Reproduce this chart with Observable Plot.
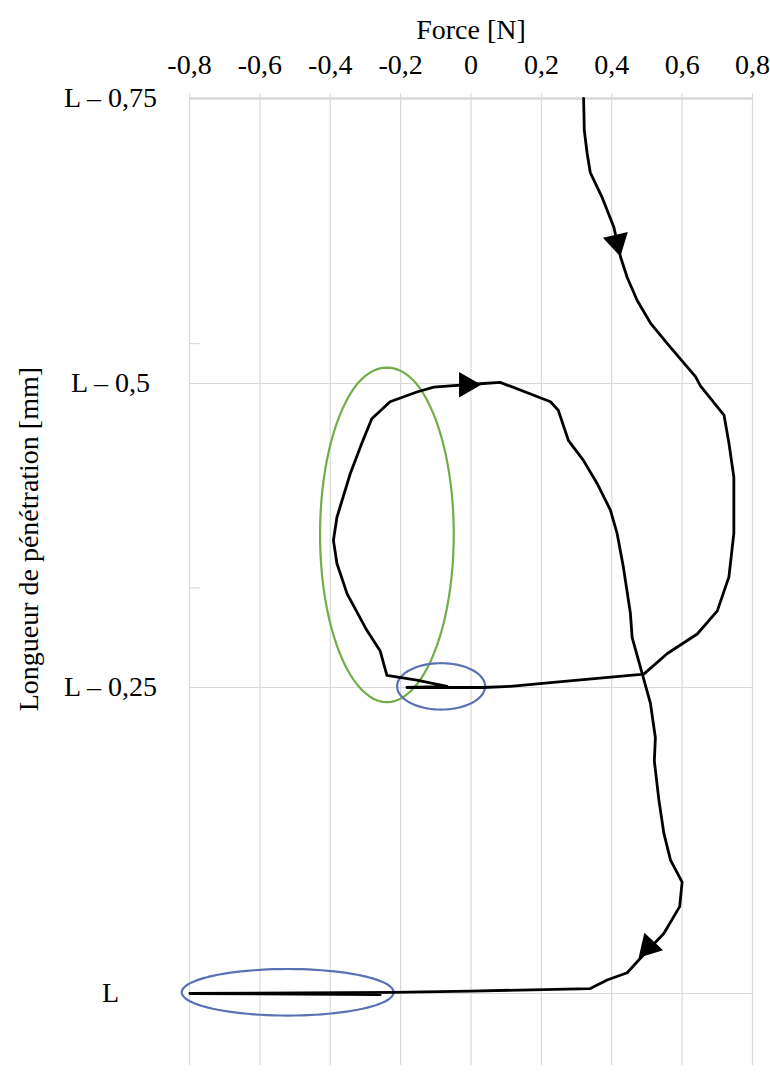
<!DOCTYPE html>
<html>
<head>
<meta charset="utf-8">
<script src="https://cdn.jsdelivr.net/npm/d3@7"></script>
<script src="https://cdn.jsdelivr.net/npm/@observablehq/plot@0.6"></script>
<style>
  body { margin: 0; background: #fff; }
  #chart svg { display: block; }
</style>
</head>
<body>
<div id="chart"></div>
<script>
// Force [N] along the trajectory
const force = [0.320, 0.322, 0.330, 0.339, 0.373, 0.406, 0.425, 0.444, 0.472, 0.510,
  0.558, 0.638, 0.652, 0.719, 0.733, 0.747, 0.747, 0.733, 0.700, 0.643,
  0.558, 0.491, 0.226, 0.112, 0.035, -0.068, -0.182, -0.068, -0.154, -0.239,
  -0.258, -0.296, -0.352, -0.381, -0.391, -0.381, -0.343, -0.310, -0.282, -0.230,
  -0.154, -0.106, -0.059, 0.035, 0.083, 0.226, 0.248, 0.277, 0.319, 0.358,
  0.396, 0.415, 0.433, 0.453, 0.458, 0.486, 0.510, 0.524, 0.521, 0.534,
  0.548, 0.567, 0.600, 0.593, 0.548, 0.482, 0.444, 0.387, 0.339, -0.002,
  -0.221, -0.799, -0.258];
// Penetration relative to L [mm]
const depth = [-0.750, -0.722, -0.702, -0.685, -0.663, -0.637, -0.611, -0.593, -0.573, -0.553,
  -0.535, -0.506, -0.498, -0.474, -0.451, -0.423, -0.377, -0.341, -0.313, -0.294,
  -0.278, -0.261, -0.254, -0.251, -0.250, -0.250, -0.250, -0.251, -0.256, -0.260,
  -0.280, -0.297, -0.327, -0.352, -0.371, -0.390, -0.426, -0.451, -0.471, -0.485,
  -0.493, -0.497, -0.498, -0.500, -0.501, -0.485, -0.478, -0.453, -0.437, -0.418,
  -0.396, -0.377, -0.349, -0.311, -0.291, -0.262, -0.237, -0.209, -0.190, -0.158,
  -0.131, -0.109, -0.091, -0.071, -0.049, -0.029, -0.017, -0.011, -0.004, -0.002,
  -0.001, 0.000, 0.001];

// direction arrows
const arrowForce = [0.415, -0.013, 0.505];
const arrowDepth = [-0.624, -0.499, -0.038];
const arrowAngle = [167, 90, 223];

// highlighted zones (ellipses)
const zoneCx = [-0.239, -0.085, -0.521];
const zoneCy = [-0.376, -0.251, -0.001];
const zoneRx = [0.190, 0.125, 0.301];
const zoneRy = [0.138, 0.019, 0.019];
const zoneColor = ["#72ad4a", "#5a72b4", "#5a72b4"];

// axes
const xTicks = [-0.8, -0.6, -0.4, -0.2, 0, 0.2, 0.4, 0.6, 0.8];
const yTicks = [-0.75, -0.5, -0.25, 0];
const yTickLabels = ["L – 0,75", "L – 0,5", "L – 0,25", "L"];
const minorY = [-0.535, -0.332];

const xTitle = "Force [N]";
const yTitle = "Longueur de pénétration [mm]";

const path = force.map((f, i) => ({f, d: depth[i]}));
const arrows = arrowForce.map((f, i) => ({f, d: arrowDepth[i], a: arrowAngle[i]}));
const zones = zoneCx.flatMap((cx, k) => d3.range(0, 97).map(j => {
  const t = j / 96 * 2 * Math.PI;
  return {k, f: cx + zoneRx[k] * Math.cos(t), d: zoneCy[k] + zoneRy[k] * Math.sin(t), c: zoneColor[k]};
}));

const font = "'Liberation Serif', 'Times New Roman', serif";
const fs = 28;
const grid = "#d9d9d9";

const chart = Plot.plot({
  width: 770,
  height: 1073,
  marginTop: 98,
  marginBottom: 8,
  marginLeft: 189,
  marginRight: 18,
  style: {fontFamily: font, fontSize: fs + "px", color: "#000", background: "#fff"},
  x: {domain: [-0.8, 0.8], axis: null},
  y: {type: "linear", domain: yTicks, range: [98, 383, 687, 993], axis: null},
  color: {type: "identity"},
  marks: [
    Plot.gridX(xTicks, {stroke: grid, strokeOpacity: 1, strokeWidth: 1.2}),
    Plot.gridY(yTicks, {stroke: grid, strokeOpacity: 1, strokeWidth: 1.2}),
    Plot.ruleY([yTicks[0]], {stroke: grid, strokeWidth: 2.5}),
    Plot.ruleY(minorY, {x1: -0.8, x2: -0.77, stroke: grid, strokeWidth: 1.2}),
    Plot.axisX(xTicks, {
      anchor: "top", tickSize: 6, tickPadding: 19, stroke: grid,
      fontSize: fs, label: null,
      tickFormat: d => d === 0 ? "0" : d.toFixed(1).replace(".", ",")
    }),
    Plot.text([xTitle], {frameAnchor: "top", text: d => d, dy: -60, lineAnchor: "bottom", textAnchor: "middle", fontSize: fs}),
    Plot.text(yTicks, {y: d => d, frameAnchor: "left", text: (d, i) => yTickLabels[i], dx: -79, textAnchor: "middle", fontSize: fs}),
    Plot.text([yTitle], {y: () => -0.372, frameAnchor: "left", text: d => d, rotate: -90, dx: -160, textAnchor: "middle", fontSize: fs}),
    Plot.line(zones, {x: "f", y: "d", z: "k", stroke: "c", strokeWidth: 2.2, curve: "linear-closed"}),
    Plot.line(path, {x: "f", y: "d", stroke: "#000", strokeWidth: 2.8, strokeLinejoin: "round", curve: "linear"}),
    Plot.dot(arrows, {x: "f", y: "d", symbol: "triangle", r: 9.5, fill: "#000", stroke: "none", rotate: "a"})
  ]
});
document.getElementById("chart").appendChild(chart);
</script>
</body>
</html>
